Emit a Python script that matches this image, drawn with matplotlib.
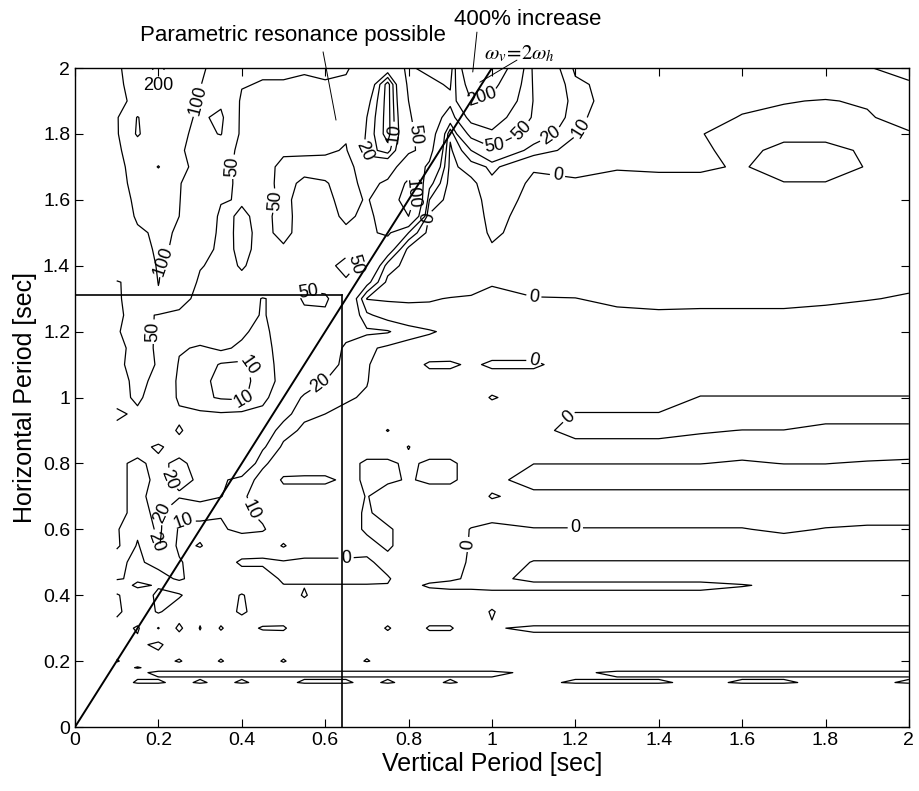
import numpy as np
import matplotlib
matplotlib.use("agg")
import matplotlib.pyplot as plt

# vertical period (x) and horizontal period (y) of the response grid [sec]
period_v = [0.1, 0.15, 0.2, 0.25, 0.3, 0.35, 0.4, 0.45, 0.5, 0.55, 0.6,
            0.65, 0.7, 0.75, 0.8, 0.85, 0.9, 0.95, 1.0,
            1.1, 1.2, 1.3, 1.4, 1.5, 1.6, 1.7, 1.8, 1.9, 2.0]
period_h = [2.0, 1.95, 1.9, 1.85, 1.8, 1.75, 1.7, 1.65, 1.6, 1.55, 1.5, 1.45, 1.4,
            1.35, 1.3, 1.25, 1.2, 1.15, 1.1, 1.05, 1.0, 0.95, 0.9, 0.85, 0.8, 0.75,
            0.7, 0.65, 0.6, 0.55, 0.5, 0.45, 0.43, 0.4, 0.35, 0.3, 0.25, 0.2, 0.18,
            0.165, 0.15, 0.135, 0.12]

# percent increase of the response, one row per horizontal period (top row first)
increase = [
    [85, 150, 220, 150, 110, 75, 60, 55, 55, 52, 55,   52, 40, 30, 55, 40, 20, 350, 300,   40, 8, 5, 5, 5, 5, 5, 6, 9.5, 13],
    [90, 120, 206, 120, 102, 70, 52, 48, 48, 47, 48,   47, 35, -5, 55, 60, 45, 260, 230,   45, 12, 6, 5, 5, 4, 4, 5, 6, 9],
    [95, 105, 130, 115, 98, 92, 45, 42, 44, 47, 48,    48, 25, -5, 50, 75, 60, 200, 180,   48, 14, 5, 4, 4, 2, 0.5, -0.5, 1, 6],
    [92, 205, 125, 112, 94, 108, 42, 40, 42, 45, 46,   48, 20, -5, 45, 80, 30, 120, 130,   45, 12, 5, 4, 3, -0.5, -2, -2, -1, 4],
    [90, 212, 120, 108, 90, 102, 42, 38, 40, 44, 45,   47, 18, -5, 42, 70, 2, 60, 90,      30, 10.5, 4, 3, 0.3, -3, -2, -2, -2, -1],
    [88, 140, 130, 105, 85, 70, 40, 36, 45, 46, 46,    52, 15, 5, 45, 60, -2, 20, 40,      14, 7, 3, 2, 1, -2, 2, 2, -1, -2],
    [86, 120, 205, 110, 88, 60, 42, 38, 58, 58, 60,    62, 30, 35, 70, 45, -3, 5, 12,      1, 2, 0.5, 1, 1.5, -1, 5, 5, -0.6, -3],
    [84, 115, 130, 102, 80, 58, 44, 40, 58, 45, 48,    60, 42, 55, 110, 25, -4, -3, 8,     -2, -1, -2, -2, -3, -3, -0.5, -0.5, -2, -3],
    [82, 108, 120, 101, 80, 52, 48, 42, 55, 42, 44,    58, 48, 65, 130, 10, -5, -5, 5,     -3, -3, -4, -4, -5, -5, -3, -3, -4, -4],
    [80, 104, 112, 100, 75, 45, 53, 45, 56, 42, 42,    54, 45, 60, 100, -2, -5, -5, 3,     -4, -4, -4, -4, -4, -4, -4, -4, -4, -4],
    [78, 96, 104, 98, 70, 44, 54, 46, 54, 44, 44,      46, 45, 55, 20, -4, -5, -5, 1.5,    -4, -4, -4, -4, -4, -4, -4, -4, -4, -4],
    [75, 90, 104, 96, 65, 42, 55, 44, 48, 46, 46,      45, 50, 30, -3, -4, -5, -5, -1,     -4, -4, -4, -4, -4, -4, -4, -4, -4, -4],
    [72, 85, 102, 85, 52, 42, 52, 42, 45, 46, 45,      55, 45, 5, -4, -4, -5, -5, -3,      -4, -4, -4, -4, -4, -4, -4, -4, -4, -4],
    [48, 58, 101, 75, 45, 40, 45, 40, 42, 44, 45,      48, 25, -3, -4, -4, -4, -4, -0.5,   -4, -4, -4, -4, -4, -4, -4, -4, -4, -2],
    [47, 60, 96, 60, 42, 35, 30, 19, 25, 55, 52,       40, -0.5, -1, -1, -0.5, 0.3, 1, 1.5, 0.5, 0.2, -2, -4, -3, -3, -3, -2, -0.5, 1],
    [46, 58, 48, 45, 40, 35, 30, 18, 30, 42, 48,       35, 12, 5, 3, 2, 2, 3, 3,           3, 3, 2, 2, 2, 2, 2, 3, 4, 4],
    [48, 60, 47, 40, 30, 28, 22, 16, 28, 38, 45,       30, 22, 21, 14, 11, 8, 4, 3,        3, 3, 3, 3, 3, 3, 3, 3, 3, 3],
    [45, 56, 48, 22, 18, 22, 18, 15, 26, 34, 40,       15, 12, 8, 6, 5, 4, 3, 3,           3, 3, 3, 3, 3, 3, 3, 3, 3, 3],
    [47, 55, 49, 18, 16, 9, 8, 14, 25, 30, 35,         12, 11, 4, 3, -1, -1, 1, -1,        -1, 3, 3, 3, 3, 3, 3, 3, 3, 3],
    [44, 54, 46, 15, 12, 8, 7, 14, 24, 28, 20,         11, 10.5, 3, 3, 3, 3, 3, 3,         3, 3, 3, 3, 3, 3, 3, 3, 3, 3],
    [46, 52, 44, 16, 12, 9, 8, 16, 30, 18, 12,         11, 9, 3, 3, 3, 3, 3, -0.5,         3, 3, 3, 3, -0.3, -0.3, -0.3, -0.3, -0.3, -0.3],
    [52, 48, 40, 24, 22, 21, 22, 24, 25, 12, 10,       8, 5, 3, 3, 3, 3, 3, 3,             3, -0.3, -0.3, -0.3, -3, -3, -3, -3, -3, -3],
    [47, 40, 30, 18, 30, 28, 26, 30, 14, 8, 6,         4, 3, -0.2, 3, 3, 3, 3, 3,          2, -2, -2, -2, -0.5, 0.1, 0.1, 2, 2, 2],
    [45, 24, 18, 26, 32, 35, 38, 22, 8, 6, 5,          3, 3, 3, -0.2, 3, 3, 3, 3,          3, 2, 2, 2, 2, 2, 2, 3, 3, 3],
    [22, 18, 23, 17, 25, 30, 35, 12, 4, 3, 3,          2, -1, -1, 1, -1, -1, 2, 3,         0.1, 0.1, 0.1, 0.1, 0.1, -0.5, 0.1, 0.1, -0.5, -1],
    [23, 17, 22, 18, 21, 22, 16, 6, -1, -1, -1,        1, -0.5, -1, 0.5, -1, -1, 2, 2,     -3, -3, -3, -3, -3, -3, -3, -3, -3, -3],
    [22, 18, 23, 21, 24, 20.5, 12, 4, 3, 3, 3,         3, -0.3, 3, 3, 3, 3, 3, -0.5,       2, 2, 2, 2, 2, 2, 2, 2, 2, 2],
    [23, 17, 22, 11, 12, 10.5, 12, 8, 4, 3, 3,         3, -1, 3, 3, 3, 3, 3, 3,            3, 3, 3, 3, 3, 3, 3, 3, 3, 3],
    [21, 12, 22, 9, 8, 9, 12, 11, 4, 3, 3,             3, -1, -1, 3, 3, 3, -0.3, -2,       -0.3, -0.3, -0.3, -0.3, -0.3, -0.3, 1, -0.3, -1, -1],
    [22, 9, 21, 8, 10.5, 6, 4, 3, 11, 3, 3,            3, 2, -1, 3, 3, 3, -0.5, -3,        -3, -3, -3, -3, -3, -3, -3, -3, -3, -3],
    [12, 8, 14, 11, 5, 3, -1, -1, -1, -1, -1,          -1, -1, 2, 3, 3, 3, -1, -3,         0.3, 0.3, 0.3, 0.3, 0.3, 0.3, 0.3, 0.3, 0.3, 0.3],
    [11, 8, 5, 12, 4, 4, 3, 3, -1, -1, -1,             -1, -1, -0.5, 3, 2, 1, -1, -2,      2, 2, 2, 2, 2, 2, 2, 2, 2, 2],
    [4, 12, 9, 4, 3, 5, 3, 3, 0.2, 0.2, 0.2,           0.2, 0.2, 0.2, 2, -1, -2, -2, -3,   -2, -2, -2, -2, -2, -0.3, 1, 1, 1, 1],
    [11, 4, 12, 11, 4, 3, 11, 3, 3, -0.5, 3,           3, 3, 3, 3, 3, 3, 3, 3,             2, 2, 2, 2, 2, 2, 2, 2, 2, 2],
    [12, 4, 11, 5, 3, 4, 12, 4, 3, 3, 3,               3, 3, 3, 3, 3, 3, 3, -0.5,          6, 6, 6, 6, 6, 6, 6, 6, 6, 6],
    [6, 11, -0.5, 12, -0.5, 11, 2, -0.5, -0.5, 3, 3,   3, 3, -0.5, 3, -0.5, -0.5, 3, 0.5,  -1, -1, -1, -1, -1, -1, -1, -1, -1, -1],
    [3, 8, 12, 3, 4, 3, 3, 4, 3, 3, 3,                 3, 3, 3, 3, 3, 3, 3, 3,             3, 3, 3, 3, 3, 3, 3, 3, 3, 3],
    [11, 3, 6, 11, 3, 11, 3, 3, 11, 3, 3,              3, -0.5, 3, 3, 3, 3, 3, 3,          3, 3, 3, 3, 3, 3, 3, 3, 3, 3],
    [4, 11, 5, 5, 5, 5, 5, 5, 5, 5, 5,                 5, 5, 5, 5, 5, 5, 5, 5,             5, 5, 5, 5, 5, 5, 5, 5, 5, 5],
    [3, 2, -2, -2, -2, -2, -2, -2, -2, -2, -2,         -2, -2, -2, -2, -2, -2, -2, -2,     2, 2, -2, -2, -2, -2, -2, -2, -2, -2],
    [3, 0.3, 0.3, 0.3, 0.3, 0.3, 0.3, 0.3, 0.3, 0.3, 0.3, 0.3, 0.3, 0.3, 0.3, 0.3, 0.3, 0.3, 0.3, 0.3, 0.3, 0.3, 0.3, 0.3, 0.3, 0.3, 0.3, 0.3, 0.3],
    [2, -0.5, -0.5, 1, -0.5, 1, -0.5, 1, 1, -0.5, -0.5, -0.5, 1, -0.5, 1, 1, -0.5, 1, 1,   1, -0.5, -0.5, -0.5, 1, -0.5, -0.5, 1, 1, -0.5],
    [3, 3, 3, 3, 3, 3, 3, 3, 3, 3, 3,                  3, 3, 3, 3, 3, 3, 3, 3,             3, 3, 3, 3, 3, 3, 3, 3, 3, 3],
]

levels = [0, 10, 20, 50, 100, 200]

# where the contour labels sit
label_spots = [(0.20, 1.94), (0.30, 1.90), (0.38, 1.70), (0.47, 1.60), (0.22, 1.41),
               (0.18, 1.20), (0.43, 1.10), (0.40, 1.01), (0.56, 1.31), (0.67, 1.40),
               (0.55, 1.12), (0.22, 0.75), (0.20, 0.65), (0.26, 0.62), (0.40, 0.65),
               (0.65, 0.515), (0.93, 0.555), (1.20, 0.60), (1.20, 0.92), (1.10, 1.11),
               (1.10, 1.29), (1.16, 1.70), (1.21, 1.82), (1.14, 1.80), (1.07, 1.81),
               (1.00, 1.78), (0.98, 1.90), (0.77, 1.80), (0.70, 1.75), (0.82, 1.80),
               (0.815, 1.62), (0.85, 1.545), (0.18, 0.56)]

# omega_v = 2 omega_h line and the chosen structure periods
resonance_v = [0, 1]
resonance_h = [0, 2]
design_v = 0.64
design_h = 1.31

plt.rcParams['font.family'] = ['Liberation Sans', 'DejaVu Sans']
plt.rcParams['mathtext.fontset'] = 'stix'

fig = plt.figure(figsize=(9.19, 7.91), dpi=100)
ax = fig.add_axes([0.0816, 0.0809, 0.9074, 0.8331])

z = np.array(increase, dtype=float)[::-1]
cs = ax.contour(period_v, period_h[::-1], z, levels=levels, colors='k', linewidths=0.9)
ax.clabel(cs, fmt='%d', fontsize=13, inline=True, inline_spacing=3, manual=label_spots)

ax.plot(resonance_v, resonance_h, color='k', lw=1.4)
ax.plot([design_v, design_v], [0, design_h], color='k', lw=1.2)
ax.plot([0, design_v], [design_h, design_h], color='k', lw=1.2)

lead = dict(arrowstyle='-', lw=0.7, color='k', shrinkA=0, shrinkB=0)
ax.annotate('', xy=(0.626, 1.842), xytext=(0.595, 2.049), arrowprops=lead,
            annotation_clip=False)
ax.annotate('', xy=(0.954, 1.988), xytext=(0.964, 2.109), arrowprops=lead,
            annotation_clip=False)
ax.annotate('', xy=(0.971, 1.957), xytext=(1.060, 2.024), arrowprops=lead,
            annotation_clip=False)
ax.text(0.522, 2.100, 'Parametric resonance possible', fontsize=16,
        ha='center', va='center', clip_on=False)
ax.text(1.086, 2.146, '400% increase', fontsize=16, ha='center', va='center',
        clip_on=False)
ax.text(1.065, 2.045, r'$\omega_v\!=\!2\omega_h$', fontsize=15, ha='center',
        va='center', clip_on=False)

ticks = [0, 0.2, 0.4, 0.6, 0.8, 1, 1.2, 1.4, 1.6, 1.8, 2]
tick_text = ['0', '0.2', '0.4', '0.6', '0.8', '1', '1.2', '1.4', '1.6', '1.8', '2']
ax.set_xlim(0, 2)
ax.set_ylim(0, 2)
ax.set_xticks(ticks)
ax.set_xticklabels(tick_text)
ax.set_yticks(ticks)
ax.set_yticklabels(tick_text)
ax.tick_params(direction='in', top=True, right=True, length=6, width=0.8,
               labelsize=14)
for s in ax.spines.values():
    s.set_linewidth(1.0)
ax.set_xlabel('Vertical Period [sec]', fontsize=18, labelpad=2)
ax.set_ylabel('Horizontal Period [sec]', fontsize=18, labelpad=4)

fig.savefig('out.png', dpi=100)
